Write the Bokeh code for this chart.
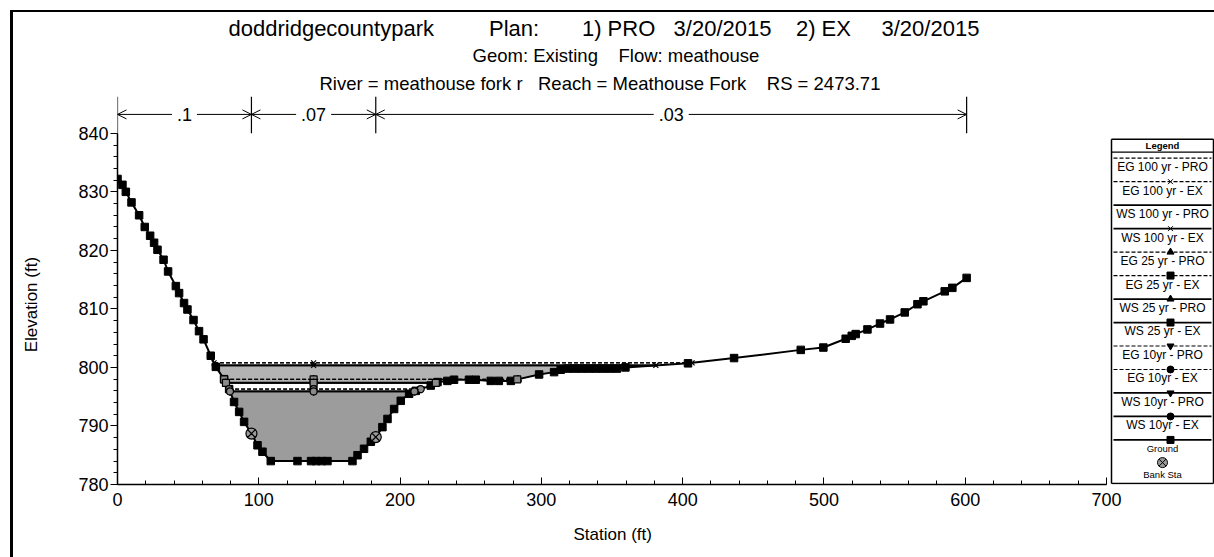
import numpy as np
from bokeh.plotting import figure
from bokeh.layouts import row, column
from bokeh.models import Range1d, SingleIntervalTicker, Label, Arrow, OpenHead, Title, Div
from bokeh.embed import file_html
from bokeh.resources import INLINE

FONT = "Liberation Sans"
NB = "\u00a0"

# ---- cross-section ground survey (station ft, elevation ft) ----
station = [0.0, 3.5, 5.9, 9.9, 15.3, 19.3, 23.1, 25.9, 28.3, 32.6, 35.8, 41.3, 43.6, 47.1,
           49.5, 53.8, 57.7, 60.9, 66.0, 69.6, 75.4, 79.0, 82.5, 86.1, 89.6, 94.8, 99.1,
           102.6, 108.5, 127.4, 137.0, 140.5, 144.5, 148.6, 166.3, 169.9, 174.5, 179.3,
           182.8, 187.5, 191.1, 195.8, 200.5, 206.4, 211.1, 221.7, 226.5, 233.5, 238.2,
           248.8, 253.6, 264.2, 269.9, 278.4, 298.4, 309.0, 313.7, 318.5, 323.5, 328.5,
           333.5, 338.5, 343.5, 348.5, 353.5, 359.5, 403.8, 436.4, 483.6, 499.6, 515.4,
           519.7, 522.5, 530.8, 539.7, 546.8, 557.2, 566.2, 570.4, 585.5, 590.9, 601.0]
elevation = [832.2, 831.2, 830.0, 828.2, 826.0, 824.0, 822.5, 821.3, 820.1, 818.4, 816.4,
             813.9, 812.7, 811.0, 809.9, 808.1, 806.2, 804.8, 802.0, 800.1, 798.0, 796.3,
             794.1, 792.4, 790.7, 788.7, 786.7, 785.6, 784.0, 784.0, 784.0, 784.0, 784.0,
             784.0, 784.0, 785.0, 786.1, 787.3, 788.1, 789.8, 791.2, 792.9, 794.3, 795.5,
             796.0, 796.9, 797.5, 797.7, 797.9, 797.9, 797.9, 797.7, 797.7, 797.7, 798.8,
             799.2, 799.6, 799.8, 799.8, 799.8, 799.8, 799.8, 799.8, 799.8, 799.8, 800.0,
             800.7, 801.6, 803.0, 803.4, 804.9, 805.4, 805.7, 806.5, 807.5, 808.2, 809.4,
             810.8, 811.3, 813.0, 813.6, 815.3]

bank_stations = [94.8, 182.8]

# Manning's n zones
n_breaks = [0.0, 94.8, 182.8, 601.0]
n_labels = [".1", ".07", ".03"]

# computed profiles (energy grade / water surface)
profile_names = ["EG 100 yr - PRO", "EG 100 yr - EX", "WS 100 yr - PRO", "WS 100 yr - EX",
                 "EG 25 yr - PRO", "EG 25 yr - EX", "WS 25 yr - PRO", "WS 25 yr - EX",
                 "EG 10yr - PRO", "EG 10yr - EX", "WS 10yr - PRO", "WS 10yr - EX"]
profile_elev = [800.80, 800.78, 800.36, 800.34, 797.98, 797.95, 797.38, 797.35,
                796.32, 796.30, 795.92, 795.90]

# drawing styles for each profile
profile_marker = [None, "x", None, "x", "triangle", "square", "triangle", "square",
                  "inverted_triangle", "circle", "inverted_triangle", "circle"]
profile_dash = ["4 2" if n.startswith("EG") else "solid" for n in profile_names]
profile_width = [1.2 if n.startswith("EG") else 1.8 for n in profile_names]

# heading pieces, joined with fixed gaps
heading_1 = ["doddridgecountypark", "Plan:", "1) PRO", "3/20/2015", "2) EX", "3/20/2015"]
heading_1_gaps = [9, 7, 3, 4, 5]
heading_2 = ["Geom: Existing", "Flow: meathouse"]
heading_2_gaps = [4]
heading_3 = ["River = meathouse fork r", "Reach = Meathouse Fork", "RS = 2473.71"]
heading_3_gaps = [3, 4]


def joined(parts, gaps):
    out = parts[0]
    for g, t in zip(gaps, parts[1:]):
        out += NB * g + t
    return out


# ---- page geometry (pixels) ----
PAGE_W, PAGE_H = 1214, 557
TOP_STRIP, LEFT_STRIP = 13, 14
FRAME_L, FRAME_T, FRAME_B = 117, 96, 486
AXIS_END_PX = 1106          # where station 700 falls
TICK_840_PX = 133
X_AXIS_MAX = 700
Y_MIN, Y_TICK_MAX = 780, 840

px_ft_x = (AXIS_END_PX - FRAME_L) / X_AXIS_MAX
px_ft_y = (FRAME_B - TICK_840_PX) / (Y_TICK_MAX - Y_MIN)
x_end = (PAGE_W - FRAME_L) / px_ft_x
y_end = Y_MIN + (FRAME_B - FRAME_T) / px_ft_y

gx = np.array(station)
gy = np.array(elevation)


def wet_extent(wse):
    i0 = int(np.argmin(gy))
    i = i0
    while i > 0 and gy[i - 1] < wse:
        i -= 1
    j = i0
    while j < len(gy) - 1 and gy[j + 1] < wse:
        j += 1
    xl = gx[i - 1] + (wse - gy[i - 1]) * (gx[i] - gx[i - 1]) / (gy[i] - gy[i - 1])
    xr = gx[j] + (wse - gy[j]) * (gx[j + 1] - gx[j]) / (gy[j + 1] - gy[j])
    return xl, xr, i, j


def water_poly(wse):
    xl, xr, i, j = wet_extent(wse)
    xs = [xl] + list(gx[i:j + 1]) + [xr]
    ys = [wse] + list(gy[i:j + 1]) + [wse]
    return xs, ys


main_w = PAGE_W - LEFT_STRIP
main_h = PAGE_H - TOP_STRIP
p = figure(width=main_w, height=main_h, x_range=Range1d(0, x_end), y_range=Range1d(Y_MIN, y_end),
           output_backend="svg", toolbar_location=None,
           min_border_left=FRAME_L - LEFT_STRIP, min_border_right=0,
           min_border_top=FRAME_T - TOP_STRIP, min_border_bottom=PAGE_H - FRAME_B)
p.extra_x_ranges = {"page": Range1d(FRAME_L, PAGE_W)}
p.extra_y_ranges = {"page": Range1d(FRAME_B, FRAME_T)}
p.background_fill_color = "white"
p.border_fill_color = "white"
p.outline_line_color = None
p.xgrid.visible = False
p.ygrid.visible = False

# axes
xa = p.xaxis[0]
xa.ticker = SingleIntervalTicker(interval=100, num_minor_ticks=5)
xa.bounds = (0, X_AXIS_MAX)
xa.major_tick_in, xa.major_tick_out = 7, 0
xa.minor_tick_in, xa.minor_tick_out = 4, 0
xa.major_label_standoff = 8
ya = p.yaxis[0]
ya.ticker = SingleIntervalTicker(interval=10, num_minor_ticks=5)
ya.bounds = (Y_MIN, Y_TICK_MAX)
ya.major_tick_in, ya.major_tick_out = 0, 7
ya.minor_tick_in, ya.minor_tick_out = 0, 4
ya.major_label_standoff = 2
# the elevation title sits a little below the frame centre
ya.axis_label = "Elevation (ft)" + NB * 6
ya.axis_label_standoff = 34
for ax in (xa, ya):
    ax.axis_line_color = "black"
    ax.axis_line_width = 1.5
    ax.major_tick_line_color = "black"
    ax.minor_tick_line_color = "black"
    ax.major_label_text_font = FONT
    ax.major_label_text_font_size = "18px"
    ax.major_label_text_color = "black"
    ax.axis_label_text_font = FONT
    ax.axis_label_text_font_size = "17px"
    ax.axis_label_text_font_style = "normal"
    ax.axis_label_text_color = "black"


def title(text, side, size, offset, standoff, align="left"):
    p.add_layout(Title(text=text, align=align, offset=offset, standoff=standoff,
                       text_font=FONT, text_font_size=size, text_font_style="normal",
                       text_color="black"), side)


# station title, centred under the drawn axis extent
title("Station (ft)", "below", "17px", 612 - 39 - FRAME_L, 28)

# heading, nearest line first
title(joined(heading_3, heading_3_gaps), "above", "18.5px", 319 - FRAME_L, 6)
title(joined(heading_2, heading_2_gaps), "above", "18.5px", 472 - FRAME_L, 4)
title(joined(heading_1, heading_1_gaps), "above", "22px", 228 - FRAME_L, 0)

# water fills
for idx, color in [(2, "#b3b3b3"), (6, "white"), (10, "#9c9c9c")]:
    xs, ys = water_poly(profile_elev[idx])
    p.patch(xs, ys, fill_color=color, line_color=None)

# ground
p.line(station, elevation, line_color="black", line_width=2)
p.scatter(station, elevation, marker="square", size=7.5, fill_color="black", line_color="black")

# profile lines
mid_channel = sum(bank_stations) / 2
for wse, mk, dash, lw in zip(profile_elev, profile_marker, profile_dash, profile_width):
    xl, xr, _, _ = wet_extent(wse)
    p.line([xl, xr], [wse, wse], line_color="black", line_width=lw, line_dash=dash)
    if mk:
        p.scatter([xl, mid_channel, xr], [wse] * 3, marker=mk, size=7,
                  fill_color="#8a8a8a", line_color="black", line_width=1.2)

# bank stations
p.scatter(bank_stations, np.interp(bank_stations, station, elevation), marker="circle_x",
          size=11, fill_color="#9a9a9a", line_color="black", line_width=1.2)

# Manning's n zones along the top
n_arrow_y = Y_MIN + (FRAME_B - 114) / px_ft_y
for b in n_breaks:
    p.add_layout(Arrow(x_start=b, y_start=Y_TICK_MAX, x_end=b, y_end=y_end, start=None, end=None,
                       line_color="black", line_width=1.2))
for a, b, lab in zip(n_breaks[:-1], n_breaks[1:], n_labels):
    p.add_layout(Arrow(x_start=a, y_start=n_arrow_y, x_end=b, y_end=n_arrow_y,
                       start=OpenHead(size=9, line_width=1), end=OpenHead(size=9, line_width=1),
                       line_color="black", line_width=1))
    p.add_layout(Label(x=(a + b) / 2, y=n_arrow_y, text=lab, text_align="center",
                       text_baseline="middle", text_font=FONT, text_font_size="18px",
                       text_color="black", background_fill_color="white", padding=5))


def page_seg(x0, y0, x1, y1, w=1.2):
    p.add_layout(Arrow(x_start=x0, y_start=y0, x_end=x1, y_end=y1, start=None, end=None,
                       line_color="black", line_width=w,
                       x_range_name="page", y_range_name="page"))


def page_text(x, y, txt, size, align="left", style="normal"):
    p.add_layout(Label(x=x, y=y, text=txt, text_align=align, text_baseline="middle",
                       text_font=FONT, text_font_size=size, text_font_style=style,
                       text_color="black", x_range_name="page", y_range_name="page"))


# legend box
LX0, LX1, LY0, LY1 = 1111, 1213, 139, 485
page_seg(LX0, LY0, LX1, LY0, 1.5)
page_seg(LX0, LY1, LX1, LY1, 1.5)
page_seg(LX0, LY0, LX0, LY1, 1.5)
page_seg(LX1, LY0, LX1, LY1, 1.5)
page_seg(LX0, 152, LX1, 152, 1.2)
page_text((LX0 + LX1) / 2, 145.5, "Legend", "9.5px", align="center", style="bold")

LEG_CX = (LX0 + LX1) / 2
LEG_MX = 1170
for k, (name, mk, dash, lw) in enumerate(zip(profile_names, profile_marker, profile_dash, profile_width)):
    y = 158 + 23.6 * k
    p.line([LX0 + 2, LX1 - 2], [y, y], line_color="black", line_width=lw, line_dash=dash,
           x_range_name="page", y_range_name="page")
    if mk:
        p.scatter([LEG_MX], [y], marker=mk, size=7, fill_color="black", line_color="black",
                  x_range_name="page", y_range_name="page")
    page_text(LEG_CX, y + 9, name, "12px", align="center")

yg = 158 + 23.6 * len(profile_names)
p.line([LX0 + 2, LX1 - 2], [yg, yg], line_color="black", line_width=1.8,
       x_range_name="page", y_range_name="page")
p.scatter([LEG_MX], [yg], marker="square", size=7, fill_color="black", line_color="black",
          x_range_name="page", y_range_name="page")
page_text(LEG_CX, yg + 9, "Ground", "9.5px", align="center")
p.scatter([LEG_CX], [464], marker="circle_x", size=10, fill_color="#9a9a9a", line_color="black",
          x_range_name="page", y_range_name="page")
page_text(LEG_CX, 476, "Bank Sta", "9.5px", align="center")

# scanned page edge: a rule along the top and one down the left side
top = Div(text="", width=PAGE_W, height=TOP_STRIP, margin=0, styles={
    "background-image": "linear-gradient(black, black), linear-gradient(black, black)",
    "background-size": f"{PAGE_W - 11}px 2px, 3px 3px",
    "background-position": "11px 10px, 10px 10px",
    "background-repeat": "no-repeat",
    "background-color": "white"})
left = Div(text="", width=LEFT_STRIP, height=main_h, margin=0, styles={
    "background-image": "linear-gradient(black, black)",
    "background-size": f"3px {main_h}px",
    "background-position": "10px 0px",
    "background-repeat": "no-repeat",
    "background-color": "white"})

layout = column(top, row(left, p, spacing=0), spacing=0)
open("out.html", "w").write(file_html(layout, INLINE))
